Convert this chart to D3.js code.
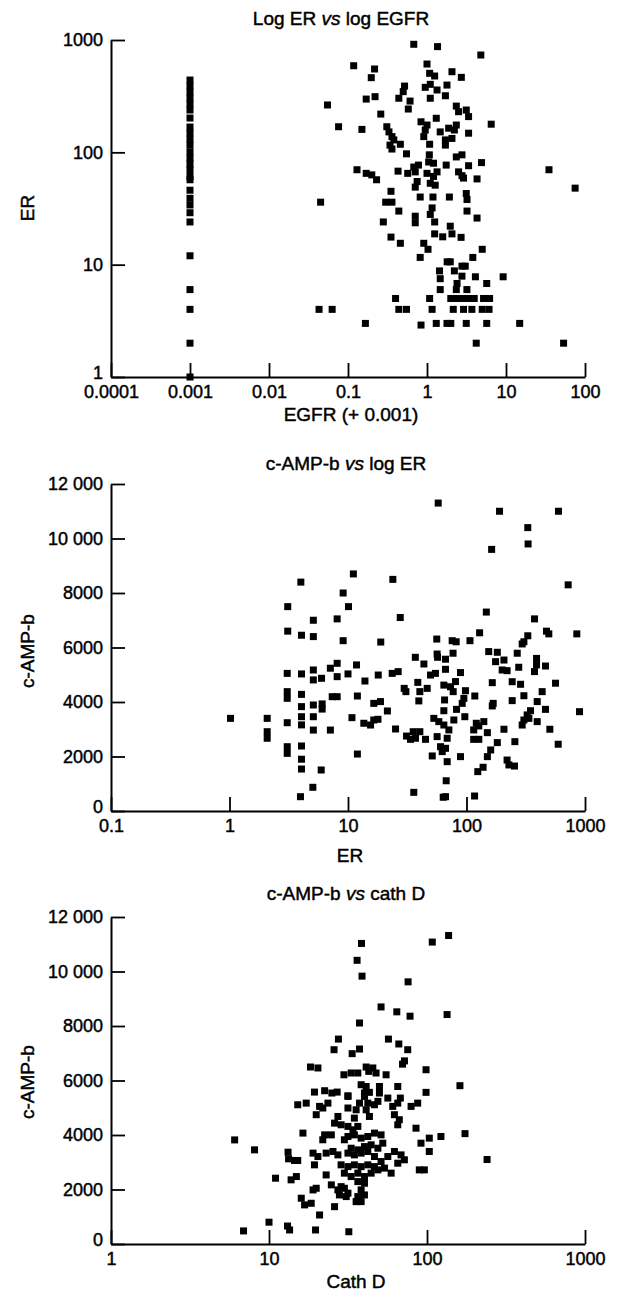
<!DOCTYPE html>
<html><head><meta charset="utf-8">
<script src="https://cdn.jsdelivr.net/npm/d3@7"></script>
<style>
body{margin:0;background:#fff;}
svg{display:block;}
text{font-family:"Liberation Sans",Arial,Helvetica,sans-serif;fill:#000;}
</style></head><body>
<svg id="c" width="620" height="1297"></svg>
<script>
// ---------- Panel 1: Log ER vs log EGFR ----------
const p1Ticks = [0.0001,0.001,0.01,0.1,1,10,100];
const p1TickLabels = ["0.0001","0.001","0.01","0.1","1","10","100"];
const p1YTicks = [1,10,100,1000];
const p1YTickLabels = ["1","10","100","1000"];
// EGFR = 0 (plotted at 0.001) column, ER values
const p1ZeroER = [440,389,344,304,269,238,202,168,149,131,116,101,89,79,70,61,57,46,39,34,29,24,12,6,4,2,1];
const p1EGFR = [0.68,1.36,4.8,0.118,0.217,0.197,1.0,1.08,1.25,2.07,2.72,1.1,0.95,1.34,1.79,1.71,1.1,0.52,0.50,0.44,0.61,0.58,0.17,0.22,0.26,2.35,2.51,3.14,3.36,6.5,0.076,0.15,0.31,0.33,0.36,0.38,0.34,0.46,0.36,0.55,0.84,1.0,1.31,0.95,0.91,1.08,1.47,1.88,2.35,2.22,1.71,2.07,1.71,3.36,2.35,2.77,1.07,1.05,1.21,0.78,0.68,1.75,2.51,3.36,2.77,2.9,4.9,0.13,0.17,0.2,0.23,0.43,0.57,0.71,0.75,0.71,1.0,1.21,1.34,1.1,1.27,4.3,0.35,0.3,0.36,0.44,0.82,1.19,1.92,3.14,3.21,0.71,1.1,1.16,3.21,4.3,35,75,0.045,0.055,
0.71,0.28,1.25,1.25,1.58,1.97,2.07,2.7,0.35,0.46,0.91,1.03,0.82,5.0,3.8,1.8,1.97,2.77,3.05,1.44,1.47,2.22,2.77,4.1,5.7,9.2,2.4,2.35,3.2,1.47,0.40,1.08,2.0,2.35,2.77,3.27,3.96,5.2,6.2,0.44,0.55,1.16,2.15,2.9,3.7,5.0,6.1,0.043,0.063,0.166,0.84,1.31,1.79,2.0,3.14,5.7,14.9,4.2,53.6];
const p1ER = [916,873,735,590,552,462,611,505,478,522,465,403,379,359,397,319,303,389,347,303,286,243,298,313,219,258,230,238,208,178,169,160,169,152,138,129,116,118,107,97,187,175,201,158,138,118,152,164,175,158,129,133,116,148,91,95,95,82,80,77,74,77,67,76,62,59,81,70,65,63,57,68,65,67,55,49,65,61,67,53,51,58,45,36,36,30,40,40,40,43,38,27,28,32,30,26,70,48,36,264,
23.6,24,24,18.8,17.7,22,18.8,17.5,17.6,15.5,15.5,13.7,11.6,13.7,11.6,10.6,10.6,9.7,9.7,8.8,7.5,8.8,7.9,7.8,6.8,7.8,6.8,6.0,6.0,6.0,5,5,5,5,5,5,5,5,5,4,4,4,4,4,4,4,4,4,4,3,2.9,3,3,3,3,3,3,2,2];

// ---------- Panel 2: c-AMP-b vs log ER ----------
const p2Ticks = [0.1,1,10,100,1000];
const p2TickLabels = ["0.1","1","10","100","1000"];
const p2YTicks = [0,2000,4000,6000,8000,10000,12000];
const p2YTickLabels = ["0","2000","4000","6000","8000","10 000","12 000"];
const p2ER = [4.0,3.1,5.1,3.1,4.05,5.1,8.1,
57.7,190,597,329,331,163,721,11.1,23.9,9.1,10.1,27.6,147,375,9.1,18.9,56.1,75.7,81.8,107,129,473,495,329,305,295,853,37,56.5,57,66.5,77,154,182,207,268,390,
1.02,2.08,2.08,2.08,3.07,3.07,3.07,3.07,3.07,3.07,4.05,4.05,4.05,4.05,4.05,4.05,4.05,4.05,3.97,5.1,5.1,5.1,5.1,5.1,5.05,5.98,6.05,6.05,5.94,7.1,7.1,8.1,8.1,7.36,8.1,
10,11.8,13.9,12,10.8,12,18,23.6,26.5,43.7,49.7,54.7,66.5,89,29.8,30.8,38.8,40.4,46.6,39.6,64.4,73.3,80.7,77.2,65.3,98,95,92,117.5,82.4,64.4,16.5,18.8,21.5,13.6,15.5,16.5,17.9,25.2,31.2,33.7,37.1,40.4,45.1,35.5,53,58.4,64.4,71,68.7,78.2,56.5,60.4,66.5,62.4,51.4,68.7,89,67.4,35.9,63.6,66.5,117,96.8,121,115,127,140,150,127,115,165,168,165,160,150,182,207,124.5,138,220,228,254,256,243,243,286,305,200,220,176,276,375,390,464,564,435,395,347,325,305,295,336,395,464,505,594,899];
const p2AMP = [8400,7500,7000,6600,6450,6400,7050,
11300,11000,11000,10400,9800,9600,8300,8700,8500,8000,7500,7100,7300,7050,6250,6200,6310,6250,6210,6250,6540,6600,6500,6430,6210,6130,6500,5640,5760,5640,5570,5790,5850,5825,5540,5790,5600,
3400,3400,2910,2670,5050,4380,4135,3240,2360,2115,5030,4280,3830,3460,3160,2385,1900,1540,525,5175,4810,3890,3460,2970,870,4870,3930,3740,1505,5240,2970,5420,4930,4195,4195,
5030,5360,4770,4220,3425,2090,4990,5050,5115,5395,4990,5050,5200,5080,4500,4380,4720,4380,4500,4040,4620,4560,4750,4380,4075,4415,4135,3950,4220,3730,3680,3950,4015,3670,3220,3155,3340,3365,3010,2750,2630,2670,2910,2630,2910,3400,3280,3155,2975,2670,3340,2730,2360,2300,2180,2020,1810,1995,1110,685,505,525,550,3460,3220,2975,3120,3280,2875,2630,2630,4710,3950,3855,2240,1995,2510,3000,1445,1605,1870,1690,1650,2545,4050,4745,4650,4230,5175,5150,5480,5275,5115,5360,5320,4690,4380,4015,3680,3525,3340,3155,3400,3280,3730,3000,2450,3645];

// ---------- Panel 3: c-AMP-b vs cath D ----------
const p3Ticks = [1,10,100,1000];
const p3TickLabels = ["1","10","100","1000"];
const p3YTicks = [0,2000,4000,6000,8000,10000,12000];
const p3YTickLabels = ["0","2000","4000","6000","8000","10 000","12 000"];
const p3Cath = [27.5,25.8,18.3,20.4,19.4,22.5,25,27,
137,108,38.5,36.1,38.8,75.9,51.2,64.4,78.1,134,37.4,57,66.3,75.5,37.4,33.6,70,72,98.6,29.8,33.1,36.5,41.2,45.4,42.8,47.6,55.1,38.3,41.2,50,50,65.3,161.6,98.6,31.6,40.2,43.2,56.5,67.8,
6.06,8.1,11,10,6.9,13.1,13.5,19.7,32,20.9,16,16.8,18.5,19,19.9,26,13.8,14.9,13.2,13.3,14.5,15.2,16.4,15.2,17.2,20.9,19.9,21.9,23.6,22.5,24.8,21.9,19,20.4,19.4,23,25.4,27.3,23,24.8,27.3,30,30.8,27.9,26,28.6,27.3,31.6,31.6,35.6,37.4,34.7,36.5,34,31.6,40.2,42.2,41.2,46.5,43.2,48.9,60.7,65.3,62.2,66.8,65.3,79.3,87.3,85.2,
30,31.6,34.7,38.3,42.2,46.5,51.2,52.5,48.9,44.3,40.2,36.5,33.1,31.6,34.7,38.3,42.2,46.5,51.2,56.5,62.2,68.5,71.9,65.3,59.3,46.5,42.2,38.3,34.7,31.6,28.6,30,33.1,36.5,40.2,44.3,48.9,53.8,36.5,40.2,38.3,36.5,40.2,38.3,28.6,31.6,35.6,
91.6,103.4,122.5,103.4,89.4,96.2,174,240];
const p3AMP = [7520,7130,6495,6460,5575,5625,5540,5575,
11320,11080,11030,10410,9830,9620,8700,8520,8360,8420,8110,7520,7340,7130,7155,6985,6600,6720,6395,6210,6275,6275,6495,6460,6335,6275,6210,5845,5780,5780,5540,5780,5810,5565,5440,5540,5565,5355,5355,
3820,3455,2415,800,480,660,515,515,450,1065,1680,1435,1495,1985,2045,1370,2355,2475,3370,3125,3065,3065,4070,5110,5170,5050,4745,4990,5170,4005,4005,3825,3335,3210,2905,3335,3395,3270,2535,2170,1985,2045,1740,1800,4435,4375,4680,5415,4990,4925,5170,4620,4315,4190,4315,5415,5170,4925,5110,4680,5235,5050,5170,4745,4560,4375,5050,5170,4250,
3825,3945,4005,3885,3945,4070,4005,3700,3515,3640,3575,3455,3515,3335,3270,3335,3395,3210,3025,3210,3395,3270,3090,2965,2600,2840,2905,2840,2905,2840,2905,2600,2475,2600,2475,2600,2720,2785,2290,2230,1985,1740,1800,1555,2105,1865,1555,
3700,3885,3945,3395,2720,2720,4050,3100];

const svg = d3.select("#c");
const FONT = '"Liberation Sans",Arial,Helvetica,sans-serif';
const MS = 7; // marker size
const THICK = 0.45; // text stroke to mimic the heavy print

function panel(cfg){
  const g = svg.append("g");
  const x = d3.scaleLog().domain(cfg.xDomain).range([111,585]);
  const y = (cfg.yLog ? d3.scaleLog() : d3.scaleLinear()).domain(cfg.yDomain).range([cfg.yBottom, cfg.yTop]);
  const xl = d3.axisBottom(x).tickValues(cfg.xTicks).tickFormat((d,i)=>cfg.xLabels[i])
      .tickSizeInner(-14).tickSizeOuter(0).tickPadding(8);
  const yl = d3.axisLeft(y).tickValues(cfg.yTicks).tickFormat((d,i)=>cfg.yLabels[i])
      .tickSizeInner(-14).tickSizeOuter(0).tickPadding(8);
  const gx = g.append("g").attr("transform",`translate(0,${cfg.yBottom})`).call(xl);
  const gy = g.append("g").attr("transform","translate(111,0)").call(yl);
  [gx,gy].forEach(a=>{
    a.attr("font-family",FONT).attr("font-size",18);
    a.selectAll("path.domain").attr("stroke","#000").attr("stroke-width",2);
    a.selectAll(".tick line").attr("stroke","#000").attr("stroke-width",1.8);
    a.selectAll(".tick text").attr("fill","#000").attr("stroke","#000").attr("stroke-width",THICK);
  });
  // lowest y label sits slightly above its tick, as in the print
  gy.selectAll(".tick text").filter((d,i)=>i===0).attr("dy","0.1em");
  g.append("g").selectAll("rect").data(cfg.pts).join("rect")
    .attr("x",d=>x(d[0])-MS/2).attr("y",d=>y(d[1])-MS/2)
    .attr("width",MS).attr("height",MS).attr("fill","#000");
  // title
  const t = g.append("text").attr("x",cfg.titleX).attr("y",cfg.titleY)
    .attr("text-anchor","middle").attr("font-size",19)
    .attr("stroke","#000").attr("stroke-width",THICK);
  cfg.title.forEach(s=>t.append("tspan").attr("font-style",s[1]?"italic":null).text(s[0]));
  g.append("text").attr("x",cfg.xLabX).attr("y",cfg.xLabY).attr("text-anchor","middle")
    .attr("font-size",19).attr("stroke","#000").attr("stroke-width",THICK).text(cfg.xLab);
  g.append("text").attr("transform",`translate(${cfg.yLabX},${cfg.yLabY}) rotate(-90)`)
    .attr("text-anchor","middle").attr("font-size",19)
    .attr("stroke","#000").attr("stroke-width",THICK).text(cfg.yLab);
}

const pts1 = p1ZeroER.map(v=>[0.001,v]).concat(p1EGFR.map((v,i)=>[v,p1ER[i]]));
panel({xDomain:[0.0001,100], yLog:true, yDomain:[1,1000], yBottom:377, yTop:40,
  xTicks:p1Ticks, xLabels:p1TickLabels, yTicks:p1YTicks, yLabels:p1YTickLabels, pts:pts1,
  title:[["Log ER ",0],["vs",1],[" log EGFR",0]], titleX:341, titleY:25,
  xLab:"EGFR (+ 0.001)", xLabX:351, xLabY:421, yLab:"ER", yLabX:34, yLabY:208});

const pts2 = p2ER.map((v,i)=>[v,p2AMP[i]]);
panel({xDomain:[0.1,1000], yLog:false, yDomain:[0,12000], yBottom:811, yTop:484,
  xTicks:p2Ticks, xLabels:p2TickLabels, yTicks:p2YTicks, yLabels:p2YTickLabels, pts:pts2,
  title:[["c-AMP-b ",0],["vs",1],[" log ER",0]], titleX:346, titleY:470,
  xLab:"ER", xLabX:350, xLabY:862, yLab:"c-AMP-b", yLabX:34, yLabY:651});

const pts3 = p3Cath.map((v,i)=>[v,p3AMP[i]]);
panel({xDomain:[1,1000], yLog:false, yDomain:[0,12000], yBottom:1244, yTop:917,
  xTicks:p3Ticks, xLabels:p3TickLabels, yTicks:p3YTicks, yLabels:p3YTickLabels, pts:pts3,
  title:[["c-AMP-b ",0],["vs",1],[" cath D",0]], titleX:346, titleY:900,
  xLab:"Cath D", xLabX:356, xLabY:1288, yLab:"c-AMP-b", yLabX:34, yLabY:1082});
</script></body></html>
